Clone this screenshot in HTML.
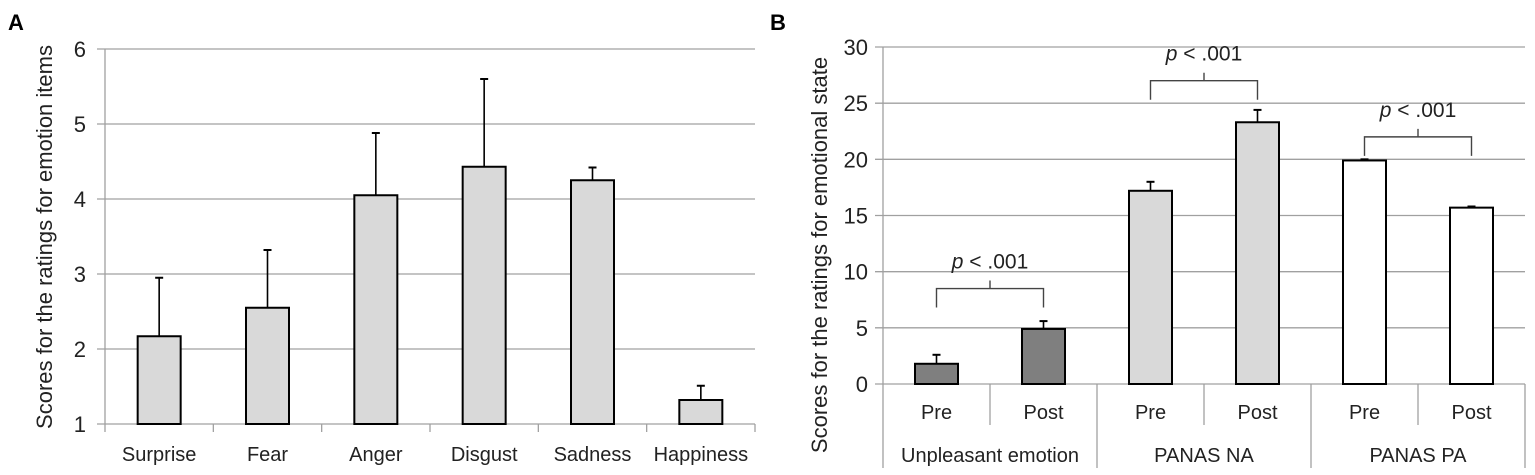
<!DOCTYPE html>
<html><head><meta charset="utf-8"><style>
html,body{margin:0;padding:0;background:#fff;}
svg{display:block;font-family:"Liberation Sans",sans-serif;}
</style></head><body>
<svg id="chart" width="1535" height="475" viewBox="0 0 1535 475">
<text x="8" y="30" font-size="22" font-weight="bold">A</text>
<text x="770" y="30" font-size="22" font-weight="bold">B</text>
<g id="pa"></g>
<g id="pb"></g>
</svg>
<script>
const catsA=["Surprise","Fear","Anger","Disgust","Sadness","Happiness"];
const meansA=[2.17,2.55,4.05,4.43,4.25,1.32];
const errA=[2.95,3.32,4.88,5.6,4.42,1.51];
const ticksA=[1,2,3,4,5,6];
const catsB=["Pre","Post","Pre","Post","Pre","Post"];
const groupsB=["Unpleasant emotion","PANAS NA","PANAS PA"];
const meansB=[1.8,4.9,17.2,23.3,19.9,15.7];
const errB=[2.6,5.6,18.0,24.4,20.0,15.8];
const fillsB=["#7f7f7f","#7f7f7f","#d9d9d9","#d9d9d9","#ffffff","#ffffff"];
const ticksB=[0,5,10,15,20,25,30];
const sigB=[{a:0,b:1,y:8.5,label:"p < .001"},{a:2,b:3,y:27,label:"p < .001"},{a:4,b:5,y:22,label:"p < .001"}];
const NS="http://www.w3.org/2000/svg";
function mk(p,t,at){const e=document.createElementNS(NS,t);for(const k in at)e.setAttribute(k,at[k]);p.appendChild(e);return e;}

// Panel A
(function(){
const g=document.getElementById('pa');
const x0=105,x1=755,yB=424,yT=49,mn=1,mx=6;
const bw=(x1-x0)/catsA.length;
const y=v=>yB-(v-mn)/(mx-mn)*(yB-yT);
const cx=i=>x0+bw*(i+0.5);
ticksA.forEach(t=>{
 const l=mk(g,'line',{x1:x0-8,x2:x1,y1:y(t),y2:y(t),stroke:'#a0a0a0','stroke-width':1.3});
 
 
 const tx=mk(g,'text',{x:86,y:y(t)+8,'font-size':22,'text-anchor':'end',fill:'#222'});tx.textContent=t;
 
 
});
const ax=mk(g,'line',{x1:x0,x2:x0,y1:yT,y2:yB+8,stroke:'#a0a0a0','stroke-width':1.3});


for(let i=1;i<=catsA.length;i++){const tk=mk(g,'line',{x1:x0+bw*i,x2:x0+bw*i,y1:yB,y2:yB+8,stroke:'#a0a0a0','stroke-width':1.3});
 
 }
catsA.forEach((c,i)=>{
 const e=mk(g,'line',{x1:cx(i),x2:cx(i),y1:y(meansA[i]),y2:y(errA[i]),stroke:'#000','stroke-width':1.6});
 
 
 mk(g,'line',{x1:cx(i)-4,x2:cx(i)+4,y1:y(errA[i]),y2:y(errA[i]),stroke:'#000','stroke-width':2});
 const r=mk(g,'rect',{x:cx(i)-21.5,y:y(meansA[i]),width:43,height:yB-y(meansA[i]),fill:'#d9d9d9',stroke:'#000','stroke-width':2});
 
 
 const t=mk(g,'text',{x:cx(i),y:461,'font-size':20,'text-anchor':'middle',fill:'#222'});t.textContent=c;
 
 
});
const yt=mk(g,'text',{x:0,y:0,'font-size':22,'text-anchor':'middle',fill:'#222',transform:'translate(52,237) rotate(-90)'});
yt.textContent="Scores for the ratings for emotion items";


})();

// Panel B
(function(){
const g=document.getElementById('pb');
const x0=883,x1=1525,yB=384,yT=47,mn=0,mx=30;
const bw=(x1-x0)/catsB.length;
const y=v=>yB-(v-mn)/(mx-mn)*(yB-yT);
const cx=i=>x0+bw*(i+0.5);
ticksB.forEach(t=>{
 const l=mk(g,'line',{x1:x0-8,x2:x1,y1:y(t),y2:y(t),stroke:'#a0a0a0','stroke-width':1.3});
 
 
 const tx=mk(g,'text',{x:868,y:y(t)+8,'font-size':22,'text-anchor':'end',fill:'#222'});tx.textContent=t;
 
 
});
const ax=mk(g,'line',{x1:x0,x2:x0,y1:yT,y2:468,stroke:'#a0a0a0','stroke-width':1.3});


for(let i=1;i<=catsB.length;i++){const big=i%2===0;
 const tk=mk(g,'line',{x1:x0+bw*i,x2:x0+bw*i,y1:yB,y2:big?468:425,stroke:'#a0a0a0','stroke-width':1.3});
 
 }
catsB.forEach((c,i)=>{
 const e=mk(g,'line',{x1:cx(i),x2:cx(i),y1:y(meansB[i]),y2:y(errB[i]),stroke:'#000','stroke-width':1.6});
 
 
 mk(g,'line',{x1:cx(i)-4,x2:cx(i)+4,y1:y(errB[i]),y2:y(errB[i]),stroke:'#000','stroke-width':2});
 const r=mk(g,'rect',{x:cx(i)-21.5,y:y(meansB[i]),width:43,height:yB-y(meansB[i]),fill:fillsB[i],stroke:'#000','stroke-width':2});
 
 
 const t=mk(g,'text',{x:cx(i),y:419,'font-size':20,'text-anchor':'middle',fill:'#222'});t.textContent=c;
 
 
});
groupsB.forEach((gn,j)=>{
 const t=mk(g,'text',{x:x0+bw*(2*j+1),y:462,'font-size':20,'text-anchor':'middle',fill:'#222'});t.textContent=gn;
 
 
});
sigB.forEach(s=>{
 const xa=cx(s.a),xb=cx(s.b),yy=y(s.y),m=(xa+xb)/2;
 const p=mk(g,'path',{d:`M${xa},${yy+19}V${yy}H${xb}V${yy+19}M${m},${yy}V${yy-8}`,fill:'none',stroke:'#444','stroke-width':1.4});
 
 
 const t=mk(g,'text',{x:m,y:yy-20,'font-size':21,'text-anchor':'middle',fill:'#222'});
 t.innerHTML='<tspan font-style="italic">p</tspan> &lt; .001';
 
 
});
const yt=mk(g,'text',{x:0,y:0,'font-size':22,'text-anchor':'middle',fill:'#222',transform:'translate(827,255) rotate(-90)'});
yt.textContent="Scores for the ratings for emotional state";


})();
</script>
</body></html>
